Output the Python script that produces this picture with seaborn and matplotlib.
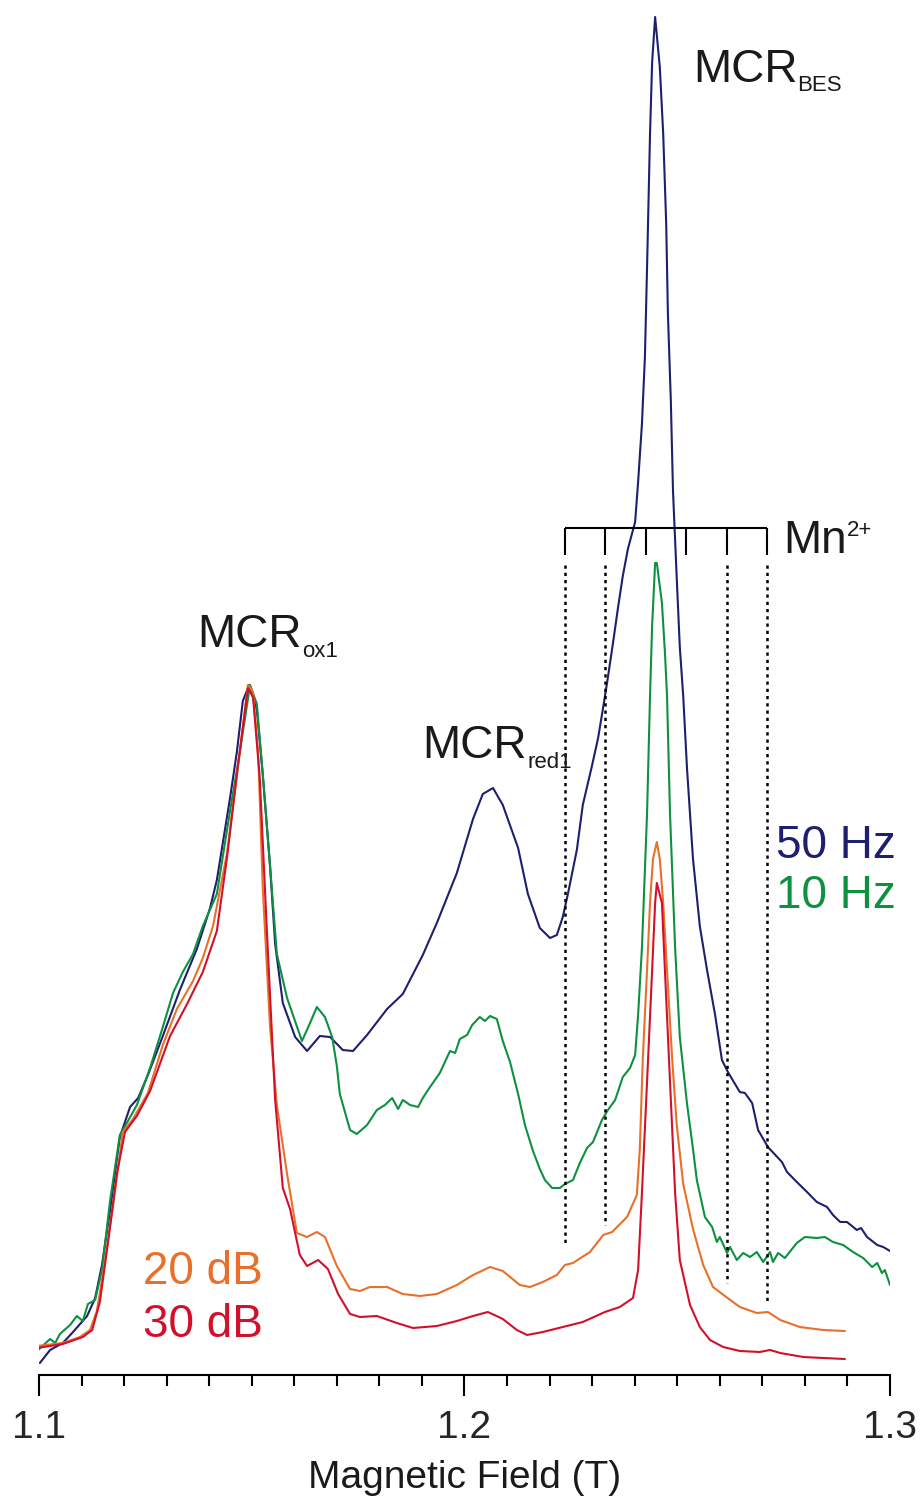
import matplotlib
matplotlib.use("Agg")
import matplotlib.pyplot as plt
import matplotlib.ticker as mticker
import numpy as np
import pandas as pd
import seaborn as sns

# EPR spectra of MCR, field in T, intensity in arbitrary units
field_50hz = [1.1002, 1.1026, 1.1056, 1.1080, 1.1113, 1.1132, 1.1148, 1.1167, 1.1190, 1.1214,
              1.1233, 1.1256, 1.1291, 1.1331, 1.1371, 1.1402, 1.1418, 1.1432, 1.1449, 1.1465,
              1.1479, 1.1494, 1.1512, 1.1526, 1.1543, 1.1555, 1.1573, 1.1602, 1.1630, 1.1660,
              1.1684, 1.1714, 1.1738, 1.1771, 1.1818, 1.1855, 1.1902, 1.1935, 1.1982, 1.2020,
              1.2043, 1.2067, 1.2090, 1.2126, 1.2149, 1.2177, 1.2201, 1.2217, 1.2231, 1.2243,
              1.2264, 1.2278, 1.2300, 1.2314, 1.2326, 1.2335, 1.2349, 1.2361, 1.2372, 1.2384,
              1.2401, 1.2408, 1.2417, 1.2424, 1.2429, 1.2436, 1.2441, 1.2448, 1.2459, 1.2467,
              1.2474, 1.2478, 1.2485, 1.2490, 1.2499, 1.2506, 1.2514, 1.2523, 1.2537, 1.2553,
              1.2570, 1.2589, 1.2605, 1.2619, 1.2647, 1.2659, 1.2676, 1.2690, 1.2713, 1.2746,
              1.2758, 1.2781, 1.2805, 1.2828, 1.2852, 1.2866, 1.2883, 1.2899, 1.2922, 1.2932,
              1.2946, 1.2970, 1.2984, 1.3000]
signal_50hz = [12, 25, 32, 43, 59, 77, 110, 165, 238, 268,
               277, 300, 339, 385, 426, 467, 495, 532, 577, 623,
               674, 690, 665, 600, 509, 431, 372, 338, 324, 339,
               338, 325, 324, 340, 366, 381, 420, 452, 502, 556,
               581, 587, 570, 527, 481, 447, 437, 440, 458, 481,
               525, 570, 610, 637, 668, 692, 732, 768, 799, 826,
               853, 893, 951, 1018, 1107, 1241, 1313, 1358, 1308, 1241,
               1152, 1062, 973, 884, 795, 728, 679, 606, 516, 449,
               405, 360, 315, 303, 283, 282, 272, 245, 228, 213,
               203, 193, 183, 173, 168, 160, 153, 153, 145, 147,
               138, 130, 128, 124]

field_10hz = [1.0998, 1.1026, 1.1038, 1.1049, 1.1073, 1.1089, 1.1103, 1.1115, 1.1132, 1.1148,
              1.1167, 1.1190, 1.1209, 1.1230, 1.1261, 1.1291, 1.1315, 1.1338, 1.1362, 1.1385,
              1.1418, 1.1449, 1.1472, 1.1496, 1.1512, 1.1526, 1.1543, 1.1559, 1.1583, 1.1618,
              1.1637, 1.1653, 1.1672, 1.1689, 1.1700, 1.1707, 1.1731, 1.1747, 1.1771, 1.1794,
              1.1813, 1.1830, 1.1844, 1.1855, 1.1872, 1.1891, 1.1902, 1.1919, 1.1942, 1.1966,
              1.1978, 1.1989, 1.2006, 1.2018, 1.2036, 1.2048, 1.2060, 1.2076, 1.2090, 1.2107,
              1.2126, 1.2142, 1.2161, 1.2177, 1.2189, 1.2206, 1.2224, 1.2236, 1.2255, 1.2271,
              1.2288, 1.2302, 1.2323, 1.2337, 1.2354, 1.2372, 1.2389, 1.2401, 1.2408, 1.2417,
              1.2429, 1.2436, 1.2441, 1.2448, 1.2452, 1.2464, 1.2471, 1.2476, 1.2483, 1.2495,
              1.2506, 1.2523, 1.2537, 1.2546, 1.2565, 1.2582, 1.2593, 1.2600, 1.2617, 1.2624,
              1.2640, 1.2655, 1.2671, 1.2687, 1.2702, 1.2718, 1.2725, 1.2737, 1.2753, 1.2781,
              1.2800, 1.2828, 1.2847, 1.2866, 1.2890, 1.2913, 1.2937, 1.2958, 1.2970, 1.2981,
              1.2988, 1.3000]
signal_10hz = [25, 36, 32, 41, 50, 59, 54, 71, 75, 105,
               174, 240, 254, 270, 307, 348, 382, 403, 421, 449,
               481, 564, 623, 690, 671, 600, 509, 421, 377, 334,
               352, 368, 358, 338, 309, 281, 245, 241, 250, 265,
               270, 277, 266, 275, 270, 268, 277, 288, 302, 324,
               322, 336, 340, 350, 358, 354, 359, 356, 334, 313,
               281, 250, 224, 206, 195, 187, 187, 191, 195, 212,
               227, 233, 255, 265, 275, 298, 307, 320, 360, 427,
               561, 679, 750, 812, 812, 772, 723, 679, 561, 427,
               338, 271, 226, 195, 158, 148, 133, 138, 122, 128,
               115, 122, 118, 123, 113, 123, 113, 122, 117, 132,
               138, 137, 138, 133, 130, 123, 117, 108, 112, 102,
               105, 90]

field_20db = [1.0995, 1.1056, 1.1096, 1.1120, 1.1136, 1.1150, 1.1174, 1.1197, 1.1221, 1.1256,
              1.1291, 1.1324, 1.1362, 1.1385, 1.1409, 1.1442, 1.1465, 1.1491, 1.1503, 1.1515,
              1.1526, 1.1543, 1.1559, 1.1583, 1.1606, 1.1630, 1.1653, 1.1672, 1.1700, 1.1731,
              1.1754, 1.1778, 1.1818, 1.1855, 1.1895, 1.1935, 1.1982, 1.2020, 1.2060, 1.2090,
              1.2130, 1.2154, 1.2184, 1.2217, 1.2236, 1.2255, 1.2295, 1.2326, 1.2347, 1.2382,
              1.2405, 1.2412, 1.2419, 1.2429, 1.2436, 1.2443, 1.2452, 1.2459, 1.2467, 1.2476,
              1.2488, 1.2499, 1.2514, 1.2537, 1.2561, 1.2584, 1.2612, 1.2647, 1.2687, 1.2713,
              1.2742, 1.2788, 1.2843, 1.2894]
signal_20db = [29, 32, 38, 45, 64, 100, 169, 243, 256, 282,
               330, 366, 394, 417, 449, 522, 600, 690, 683, 623,
               486, 348, 270, 201, 142, 138, 143, 138, 109, 86,
               84, 88, 88, 81, 79, 81, 90, 100, 108, 104,
               90, 88, 93, 100, 110, 112, 123, 140, 143, 158,
               180, 226, 316, 405, 472, 516, 533, 516, 472, 405,
               316, 249, 191, 146, 110, 88, 79, 68, 62, 63,
               55, 48, 45, 44]

field_30db = [1.0995, 1.1056, 1.1103, 1.1125, 1.1143, 1.1162, 1.1183, 1.1202, 1.1230, 1.1261,
              1.1308, 1.1348, 1.1385, 1.1418, 1.1442, 1.1465, 1.1491, 1.1503, 1.1519, 1.1536,
              1.1555, 1.1573, 1.1590, 1.1613, 1.1630, 1.1656, 1.1679, 1.1703, 1.1731, 1.1754,
              1.1794, 1.1841, 1.1879, 1.1935, 1.1982, 1.2020, 1.2055, 1.2090, 1.2123, 1.2147,
              1.2184, 1.2231, 1.2278, 1.2330, 1.2365, 1.2396, 1.2408, 1.2417, 1.2429, 1.2441,
              1.2448, 1.2452, 1.2464, 1.2471, 1.2483, 1.2495, 1.2506, 1.2530, 1.2553, 1.2577,
              1.2608, 1.2647, 1.2694, 1.2718, 1.2742, 1.2796, 1.2843, 1.2894]
signal_30db = [27, 31, 38, 45, 73, 132, 201, 243, 259, 284,
               339, 371, 403, 444, 518, 600, 687, 678, 596, 440,
               275, 187, 166, 120, 109, 115, 106, 81, 61, 58,
               59, 52, 47, 49, 54, 59, 63, 56, 45, 40,
               43, 48, 53, 63, 68, 77, 105, 182, 293, 405,
               472, 492, 472, 405, 293, 182, 115, 70, 48, 35,
               28, 24, 23, 25, 22, 18, 17, 16]

# Mn2+ sextet marker
mn_lines = [1.2236, 1.2330, 1.2427, 1.2521, 1.2617, 1.2711]
mn_bar_level = 847
mn_tick_bottom = 820
mn_dotted_top = 810
mn_dotted_bottom = [132, 150, None, None, 92, 74]

tick_values = [1.1, 1.2, 1.3]
tick_labels = ["1.1", "1.2", "1.3"]

colors = {"50 Hz": "#1e1f6e", "10 Hz": "#0d9141", "20 dB": "#e8702a", "30 dB": "#d3102b"}

sns.set_theme(style="white")
plt.rcParams["font.family"] = ["Liberation Sans", "DejaVu Sans"]

frames = []
for name, fx, fy in [("50 Hz", field_50hz, signal_50hz), ("10 Hz", field_10hz, signal_10hz),
                     ("20 dB", field_20db, signal_20db), ("30 dB", field_30db, signal_30db)]:
    frames.append(pd.DataFrame({"field": fx, "signal": fy, "trace": name}))
df = pd.concat(frames, ignore_index=True)

W, H = 922, 1499
fig = plt.figure(figsize=(W / 100, H / 100), dpi=100)
ax = fig.add_axes([39 / W, 124 / H, 851 / W, 1375 / H])

sns.lineplot(data=df, x="field", y="signal", hue="trace", palette=colors,
             hue_order=["50 Hz", "10 Hz", "20 dB", "30 dB"], estimator=None,
             sort=False, legend=False, linewidth=1.5, ax=ax)

# Mn2+ bracket and dotted guides
ax.hlines(mn_bar_level, mn_lines[0], mn_lines[-1], color="black", lw=1.5)
ax.vlines(mn_lines, mn_tick_bottom, mn_bar_level, color="black", lw=1.5)
for b, low in zip(mn_lines, mn_dotted_bottom):
    if low is not None:
        ax.plot([b, b], [mn_dotted_top, low], color="black", lw=1.8,
                linestyle=(0, (1.3, 1.6)))

ax.set_xlim(1.1, 1.3)
ax.set_ylim(0, 1375)
for side in ["left", "right", "top"]:
    ax.spines[side].set_visible(False)
ax.spines["bottom"].set_linewidth(1.5)
ax.spines["bottom"].set_color("black")
ax.set_yticks([])
ax.xaxis.set_major_locator(mticker.FixedLocator(tick_values))
ax.set_xticklabels(tick_labels)
ax.xaxis.set_minor_locator(mticker.MultipleLocator(0.01))
ax.tick_params(axis="x", which="major", direction="out", length=15, width=1.5,
               color="black", labelsize=28, pad=10, bottom=True)
ax.tick_params(axis="x", which="minor", direction="out", length=8, width=1.5,
               color="black", bottom=True)
ax.set_xlabel("Magnetic Field (T)", fontsize=28, labelpad=10, color="#1a1a1a")
ax.set_ylabel("")

txt = dict(fontsize=33, color="#1a1a1a", va="baseline", ha="left")
sub = dict(fontsize=16, color="#1a1a1a", va="baseline", ha="left")
ax.text(1.1371, 728, "MCR", **txt)
ax.text(1.1618, 718, "ox1", **sub)
ax.text(1.1900, 617, "MCR", **txt)
ax.text(1.2147, 607, "red1", **sub)
ax.text(1.2537, 1293, "MCR", **txt)
ax.text(1.2781, 1284, "BES", **sub)
ax.text(1.2749, 822, "Mn", **txt)
ax.text(1.2899, 839, "2+", **sub)

lab = dict(fontsize=33, va="baseline", ha="left")
ax.text(1.2732, 517, "50 Hz", color=colors["50 Hz"], **lab)
ax.text(1.2732, 467, "10 Hz", color=colors["10 Hz"], **lab)
ax.text(1.1244, 91, "20 dB", color=colors["20 dB"], **lab)
ax.text(1.1244, 38, "30 dB", color=colors["30 dB"], **lab)

fig.savefig("out.png", dpi=100)
